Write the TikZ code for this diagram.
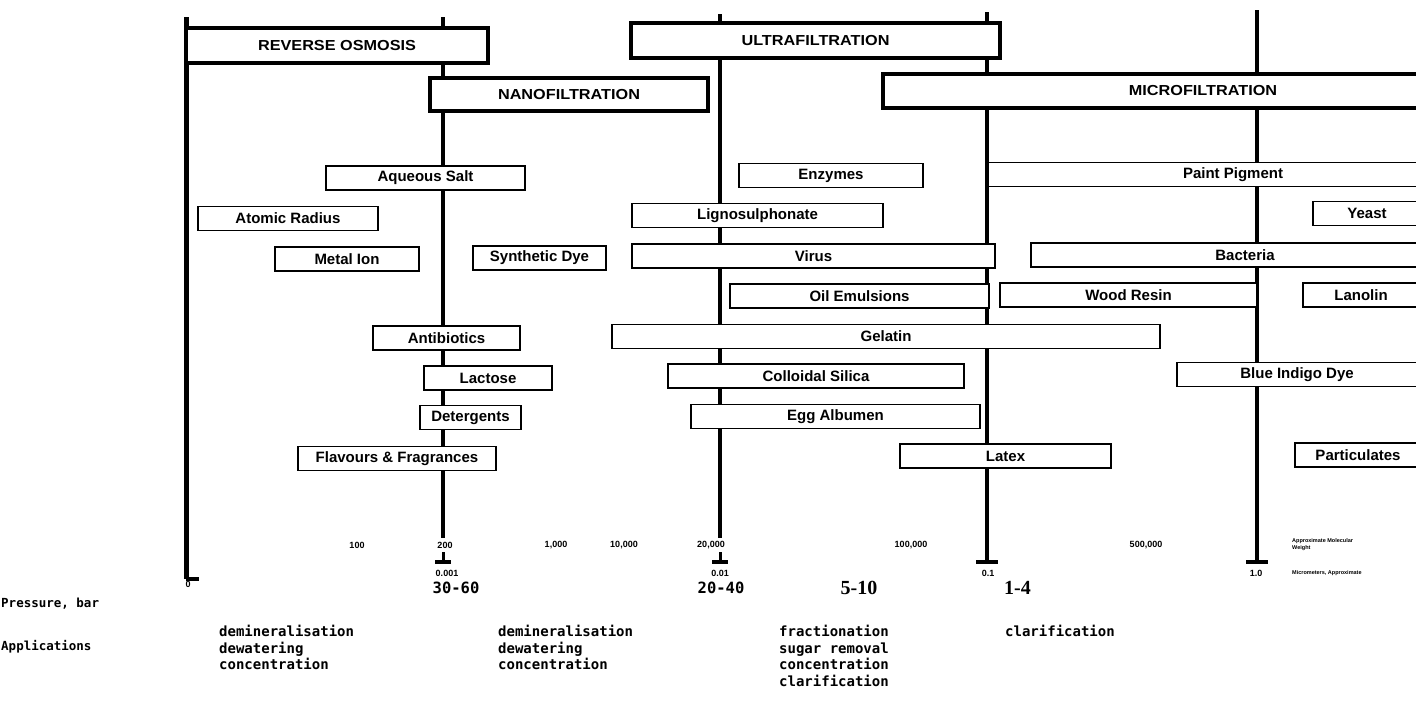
\documentclass[tikz,border=0pt]{standalone}
\usepackage{fontspec}
\setmainfont{Liberation Sans}
\newfontfamily\barfont[FakeStretch=1.12]{Liberation Sans}
\newfontfamily\dotfont{DejaVu Sans Mono}
\newfontfamily\serfont{Liberation Serif}
\begin{document}
\begin{tikzpicture}[x=1pt,y=-1pt,
  axis/.style={line width=4.5pt},
  foot/.style={line width=3.5pt},
  topbar/.style={draw,line width=3.5pt,fill=white,inner sep=0pt,
    font=\barfont\bfseries\fontsize{14.5}{14.5}\selectfont},
  item/.style={draw,line width=1.8pt,fill=white,inner sep=0pt,minimum height=24pt,
    font=\bfseries\fontsize{15}{15}\selectfont},
  scalelbl/.style={inner sep=0pt,font=\bfseries\fontsize{9}{9}\selectfont},
  tinylbl/.style={inner sep=0pt,anchor=west,align=left,font=\bfseries\fontsize{5.5}{7}\selectfont},
  rowlbl/.style={inner sep=0pt,anchor=west,font=\dotfont\bfseries\fontsize{12.5}{12.5}\selectfont},
  applist/.style={inner sep=0pt,anchor=north west,align=left,font=\dotfont\bfseries\fontsize{14}{16.7}\selectfont},
  dotnum/.style={inner sep=0pt,font=\dotfont\bfseries\fontsize{15.5}{15.5}\selectfont},
  sernum/.style={inner sep=0pt,font=\serfont\bfseries\fontsize{20}{20}\selectfont}]
\useasboundingbox (0,0) rectangle (1416,712);
\clip (0,0) rectangle (1416,712);

% vertical scale lines
\coordinate (a1t) at (186,17);  \coordinate (a1b) at (186,579); \coordinate (a1f) at (199,579);
\coordinate (a2t) at (443,17);  \coordinate (a2b) at (443,538);
\coordinate (a2s) at (443,552); \coordinate (a2l) at (435,562); \coordinate (a2r) at (451,562); \coordinate (a2e) at (443,562);
\coordinate (a3t) at (720,14);  \coordinate (a3b) at (720,538);
\coordinate (a3s) at (720,552); \coordinate (a3l) at (712,562); \coordinate (a3r) at (728,562); \coordinate (a3e) at (720,562);
\coordinate (a4t) at (987,12);  \coordinate (a4b) at (987,562);
\coordinate (a4l) at (976,562); \coordinate (a4r) at (998,562);
\coordinate (a5t) at (1257,10); \coordinate (a5b) at (1257,562);
\coordinate (a5l) at (1246,562); \coordinate (a5r) at (1268,562);

\draw[axis,line width=5pt] (a1t) -- (a1b);
\draw[foot] (a1b) -- (a1f);
\draw[axis] (a2t) -- (a2b);
\draw[axis,line width=3pt] (a2s) -- (a2e);
\draw[foot] (a2l) -- (a2r);
\draw[axis] (a3t) -- (a3b);
\draw[axis,line width=3pt] (a3s) -- (a3e);
\draw[foot] (a3l) -- (a3r);
\draw[axis] (a4t) -- (a4b);
\draw[foot,line width=4pt] (a4l) -- (a4r);
\draw[axis] (a5t) -- (a5b);
\draw[foot,line width=4pt] (a5l) -- (a5r);

% process bars
\node[topbar,minimum width=302pt,minimum height=35pt] (ro) at (337,45.5) {REVERSE OSMOSIS};
\node[topbar,minimum width=369pt,minimum height=35pt] (uf) at (815.5,40.5) {ULTRAFILTRATION};
\node[topbar,minimum width=278pt,minimum height=33pt] (nf) at (569,94.5) {NANOFILTRATION};
\node[topbar,minimum width=640pt,minimum height=34pt] (mf) at (1203,91) {MICROFILTRATION};

% solutes and particles
\node[item,minimum width=199pt] (salt)   at (425.5,178) {Aqueous Salt};
\node[item,minimum width=180pt] (atom)   at (288,218.5) {Atomic Radius};
\node[item,minimum width=144pt] (metal)  at (347,259) {Metal Ion};
\node[item,minimum width=133pt] (dye)    at (539.5,258) {Synthetic Dye};
\node[item,minimum width=147pt] (antib)  at (446.5,338) {Antibiotics};
\node[item,minimum width=128pt] (lact)   at (488,378) {Lactose};
\node[item,minimum width=101pt] (deter)  at (470.5,417.5) {Detergents};
\node[item,minimum width=198pt] (flav)   at (397,458.5) {Flavours \& Fragrances};

\node[item,minimum width=184pt] (enz)    at (831,175.5) {Enzymes};
\node[item,minimum width=251pt] (ligno)  at (757.5,215.5) {Lignosulphonate};
\node[item,minimum width=363pt] (virus)  at (813.5,256) {Virus};
\node[item,minimum width=259pt] (oil)    at (859.5,296) {Oil Emulsions};
\node[item,minimum width=548pt] (gel)    at (886,336.5) {Gelatin};
\node[item,minimum width=296pt] (silica) at (816,376) {Colloidal Silica};
\node[item,minimum width=289pt] (egg)    at (835.5,416.5) {Egg Albumen};
\node[item,minimum width=211pt] (latex)  at (1005.5,456) {Latex};

\node[item,minimum width=490pt] (paint)  at (1233,174.5) {Paint Pigment};
\node[item,minimum width=108pt] (yeast)  at (1367,213.5) {Yeast};
\node[item,minimum width=428pt] (bact)   at (1245,255) {Bacteria};
\node[item,minimum width=257pt] (wood)   at (1128.5,295) {Wood Resin};
\node[item,minimum width=116pt] (lano)   at (1361,295) {Lanolin};
\node[item,minimum width=240pt] (indigo) at (1297,374.5) {Blue Indigo Dye};
\node[item,minimum width=126pt] (part)   at (1358,455) {Particulates};

% scale values
\node[scalelbl] (m100)  at (357,545) {100};
\node[scalelbl] (m200)  at (445,545) {200};
\node[scalelbl] (m1k)   at (556,545) {1,000};
\node[scalelbl] (m10k)  at (624,545) {10,000};
\node[scalelbl] (m20k)  at (711,545) {20,000};
\node[scalelbl] (m100k) at (911,545) {100,000};
\node[scalelbl] (m500k) at (1146,545) {500,000};
\node[scalelbl] (u0)    at (188,584) {0};
\node[scalelbl] (u1)    at (447,573) {0.001};
\node[scalelbl] (u2)    at (720,573) {0.01};
\node[scalelbl] (u3)    at (988,573) {0.1};
\node[scalelbl] (u4)    at (1256,573) {1.0};
\node[tinylbl] (mwlbl) at (1292,545) {Approximate Molecular\\Weight};
\node[tinylbl] (umlbl) at (1292,573) {Micrometers, Approximate};

% operating data
\node[rowlbl] (pres) at (1,604) {Pressure, bar};
\node[rowlbl] (apps) at (1,647) {Applications};
\node[dotnum] (p1) at (456,588) {30-60};
\node[dotnum] (p2) at (721,588) {20-40};
\node[sernum] (p3) at (859,588) {5-10};
\node[sernum,anchor=west] (p4) at (1004,588) {1-4};
\node[applist] (ap1) at (219,625) {demineralisation\\dewatering\\concentration};
\node[applist] (ap2) at (498,625) {demineralisation\\dewatering\\concentration};
\node[applist] (ap3) at (779,625) {fractionation\\sugar removal\\concentration\\clarification};
\node[applist] (ap4) at (1005,625) {clarification};
\end{tikzpicture}
\end{document}
